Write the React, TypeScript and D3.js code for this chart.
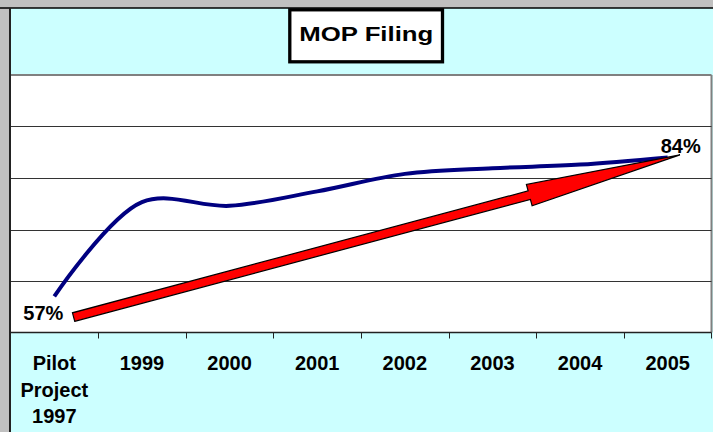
import React from "react";
import * as d3 from "d3";

const categories = ["Pilot Project 1997", "1999", "2000", "2001", "2002", "2003", "2004", "2005"];
const categoryLines = [["Pilot", "Project", "1997"], ["1999"], ["2000"], ["2001"], ["2002"], ["2003"], ["2004"], ["2005"]];
const filingValues = [57, 75.3, 74.6, 77.4, 80.8, 81.9, 82.6, 84];
const yDomain = [50, 100];
const gridValues = [60, 70, 80, 90];
const dataLabels = [
  { index: 0, text: "57%" },
  { index: 7, text: "84%" },
];
// arrow drawn from a point near the first category to one near the last (category index, band offset, value)
const arrowStart = { index: 0, offset: 0.22, value: 53 };
const arrowEnd = { index: 7, offset: 0.14, value: 84.5 };
const title = "MOP Filing";

const W = 713;
const H = 432;
const plot = { left: 10.5, right: 711.5, top: 75, bottom: 332.5 };

export default function App() {
  const x = d3.scaleBand<string>().domain(categories).range([plot.left, plot.right]).padding(0);
  const bw = x.bandwidth();
  const cx = (i: number) => (x(categories[i]) as number) + bw / 2;
  const y = d3.scaleLinear().domain(yDomain).range([plot.bottom, plot.top]);

  const line = d3
    .line<number>()
    .x((_, i) => cx(i))
    .y((d) => y(d))
    .curve(d3.curveCatmullRom.alpha(0.5));

  const sx = cx(arrowStart.index) + arrowStart.offset * bw;
  const sy = y(arrowStart.value);
  const tx = cx(arrowEnd.index) + arrowEnd.offset * bw;
  const ty = y(arrowEnd.value);
  const dx = tx - sx;
  const dy = ty - sy;
  const len = Math.hypot(dx, dy);
  const ux = dx / len;
  const uy = dy / len;
  const nx = -uy;
  const ny = ux;
  const shaftHalf = 4.4;
  const headHalf = 11;
  const headLen = 156;
  const bx = tx - ux * headLen;
  const by = ty - uy * headLen;
  const pts: [number, number][] = [
    [sx + nx * shaftHalf, sy + ny * shaftHalf],
    [bx + nx * shaftHalf, by + ny * shaftHalf],
    [bx + nx * headHalf, by + ny * headHalf],
    [tx, ty],
    [bx - nx * headHalf, by - ny * headHalf],
    [bx - nx * shaftHalf, by - ny * shaftHalf],
    [sx - nx * shaftHalf, sy - ny * shaftHalf],
  ];
  const arrowPath = "M" + pts.map((p) => p.join(",")).join("L") + "Z";

  const font = "'Liberation Sans', Arial, sans-serif";

  return (
    <svg
      width={W}
      height={H}
      style={{ position: "absolute", left: 0, top: 0, display: "block" }}
      fontFamily={font}
    >
      <rect x={0} y={0} width={W} height={H} fill="#c0c0c0" />
      <rect x={10} y={8} width={W - 10} height={H - 8} fill="#ccffff" />
      <line x1={0} x2={W} y1={8} y2={8} stroke="#000" strokeWidth={1.5} />
      <line x1={10} x2={10} y1={8} y2={H} stroke="#222" strokeWidth={2} />
      <rect x={11} y={plot.top} width={plot.right - 11} height={plot.bottom - plot.top} fill="#fff" />
      <line x1={11} x2={plot.right} y1={plot.top} y2={plot.top} stroke="#808080" strokeWidth={2} />
      <line x1={plot.right} x2={plot.right} y1={plot.top} y2={plot.bottom} stroke="#808080" strokeWidth={2} />
      {gridValues.map((v) => (
        <line key={v} x1={11} x2={plot.right} y1={Math.round(y(v)) + 0.5} y2={Math.round(y(v)) + 0.5} stroke="#333" strokeWidth={1} />
      ))}
      <line x1={10} x2={plot.right} y1={plot.bottom} y2={plot.bottom} stroke="#222" strokeWidth={1.5} />
      {categories.map((c, i) =>
        i === 0 ? null : (
          <line key={c} x1={Math.round(x(c) as number) + 0.5} x2={Math.round(x(c) as number) + 0.5} y1={plot.bottom} y2={plot.bottom + 6} stroke="#222" strokeWidth={1} />
        )
      )}
      <line x1={plot.right} x2={plot.right} y1={plot.bottom} y2={plot.bottom + 6} stroke="#222" strokeWidth={1} />

      {categoryLines.map((lines, i) => (
        <text key={i} x={cx(i)} y={370} textAnchor="middle" fontSize={20} fontWeight="bold" fill="#000">
          {lines.map((t, j) => (
            <tspan key={j} x={cx(i)} y={370 + j * 26.5}>
              {t}
            </tspan>
          ))}
        </text>
      ))}

      <path d={line(filingValues) || ""} fill="none" stroke="#000080" strokeWidth={4} />

      <path d={arrowPath} fill="#ff0000" stroke="#000" strokeWidth={1.2} strokeLinejoin="miter" />

      {dataLabels.map((d) => (
        <text
          key={d.text}
          x={d.index === 0 ? cx(d.index) - 11 : cx(d.index) + 13}
          y={d.index === 0 ? y(filingValues[d.index]) + 23.5 : y(filingValues[d.index]) - 4.5}
          textAnchor="middle"
          fontSize={20}
          fontWeight="bold"
          fill="#000"
        >
          {d.text}
        </text>
      ))}

      <rect x={289.8} y={9.8} width={152.7} height={52} fill="#fff" stroke="#000" strokeWidth={3.3} />
      <text x={299.3} y={40.7} fontSize={21} fontWeight="bold" textLength={134} lengthAdjust="spacingAndGlyphs" fill="#000">
        {title}
      </text>
    </svg>
  );
}
